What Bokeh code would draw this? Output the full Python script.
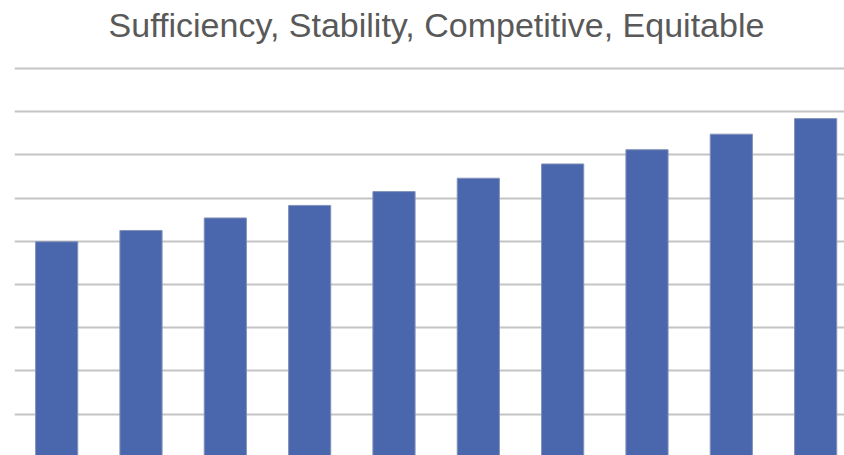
from bokeh.plotting import figure
from bokeh.models import Range1d, FixedTicker, Label
from bokeh.embed import file_html
from bokeh.resources import INLINE

# Data (units = one gridline step)
periods = [1, 2, 3, 4, 5, 6, 7, 8, 9, 10]
values = [4.99, 5.25, 5.54, 5.83, 6.15, 6.46, 6.79, 7.12, 7.48, 7.84]
grid_ticks = [1, 2, 3, 4, 5, 6, 7, 8, 9]
title_text = "Sufficiency, Stability, Competitive, Equitable"

W, H = 844, 455
LEFT = 14
X0, X1 = 0.5, 10.342
Y0, Y1 = 0.04, 0.04 + H / 43.19

p = figure(width=W, height=H, output_backend="svg", toolbar_location=None,
           x_axis_location=None, y_axis_location=None,
           x_range=Range1d(X0, X1), y_range=Range1d(Y0, Y1),
           min_border_left=LEFT, min_border_right=0, min_border_bottom=0, min_border_top=0)

p.outline_line_color = None
p.xgrid.visible = False
p.ygrid.ticker = FixedTicker(ticks=grid_ticks)
p.ygrid.grid_line_color = "#C4C4C4"
p.ygrid.grid_line_width = 2

p.vbar(x=periods, top=values, bottom=0, width=0.5,
       fill_color="#4A66AC", line_color="#8392B8", line_width=1)

# title placed at pixel position (centre x=436, near top of picture)
px_per_x = (W - LEFT) / (X1 - X0)
px_per_y = H / (Y1 - Y0)
title = Label(x=X0 + (436 - LEFT) / px_per_x, y=Y0 + (H - 24) / px_per_y,
              text=title_text, text_align="center", text_baseline="alphabetic",
              text_font="Liberation Sans", text_font_size="34px", text_color="#595959")
p.add_layout(title)

open("out.html", "w").write(file_html(p, INLINE))
